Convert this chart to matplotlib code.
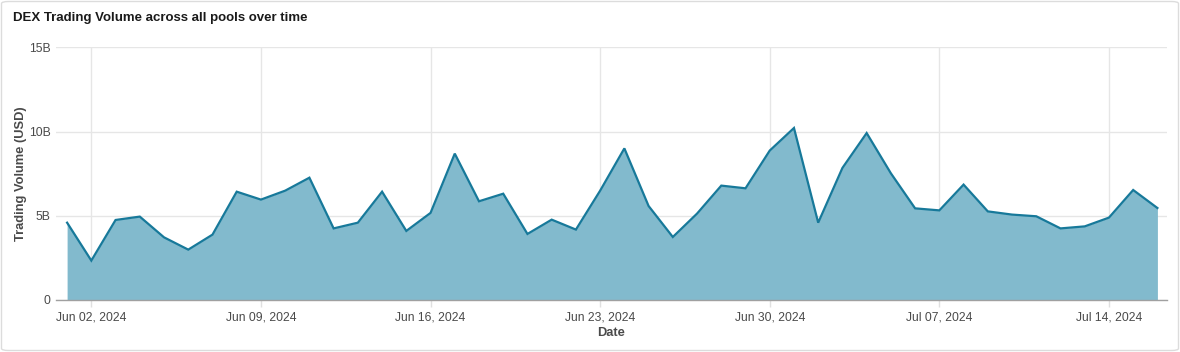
import matplotlib
matplotlib.use("Agg")
import matplotlib.pyplot as plt
import matplotlib.dates as mdates
from matplotlib.patches import FancyBboxPatch
import numpy as np
import pandas as pd

plt.rcParams['font.family'] = ['Liberation Sans', 'DejaVu Sans']

start_date = "2024-06-01"
end_date = "2024-07-16"
volume_b = [4.59, 2.34, 4.75, 4.95, 3.72, 2.99, 3.88, 6.43, 5.96, 6.49,
            7.26, 4.25, 4.59, 6.43, 4.10, 5.17, 8.69, 5.86, 6.31, 3.92,
            4.77, 4.18, 6.49, 9.00, 5.58, 3.74, 5.13, 6.79, 6.63, 8.87,
            10.21, 4.59, 7.84, 9.91, 7.52, 5.44, 5.32, 6.85, 5.26, 5.07,
            4.97, 4.25, 4.37, 4.89, 6.53, 5.46]
tick_dates = ["2024-06-02", "2024-06-09", "2024-06-16", "2024-06-23",
              "2024-06-30", "2024-07-07", "2024-07-14"]
y_ticks = [0, 5e9, 10e9, 15e9]
y_tick_labels = ["0", "5B", "10B", "15B"]

dates = pd.date_range(start_date, end_date, freq="D")
values = np.array(volume_b) * 1e9

W, H = 1180, 352
fig = plt.figure(figsize=(W / 100, H / 100), dpi=100)

# rounded card border
card = FancyBboxPatch((1.5 / W, 1.5 / H), (W - 3) / W, (H - 3) / H,
                      boxstyle="round,pad=0,rounding_size=0.006",
                      transform=fig.transFigure, facecolor="white",
                      edgecolor="#dcdcdc", linewidth=1.0, zorder=-10)
fig.patches.append(card)

ax_l, ax_r, ax_t, ax_b = 56, 1167, 47.3, 300
ax = fig.add_axes([ax_l / W, (H - ax_b) / H, (ax_r - ax_l) / W, (ax_b - ax_t) / H])
ax.set_facecolor("none")

fill_color = "#82bacd"
line_color = "#17799a"
ax.fill_between(dates, values, 0, color=fill_color, linewidth=0, zorder=2)
ax.plot(dates, values, color=line_color, linewidth=1.6, zorder=3,
        solid_joinstyle="miter")

ax.set_ylim(0, 15e9)
ax.set_xlim(dates[0] - pd.Timedelta(hours=11), dates[-1] + pd.Timedelta(hours=9.5))

ax.set_yticks(y_ticks)
ax.set_yticklabels(y_tick_labels)
xt = pd.to_datetime(tick_dates)
ax.set_xticks(xt)
ax.set_xticklabels([d.strftime("%b %d, %Y") for d in xt])

ax.grid(True, color="#e6e6e6", linewidth=1.0, zorder=1)
ax.set_axisbelow(True)
for s in ["top", "right", "left"]:
    ax.spines[s].set_visible(False)
ax.spines["bottom"].set_color("#a0a0a0")
ax.spines["bottom"].set_linewidth(1.0)
ax.spines["bottom"].set_zorder(4)

ax.tick_params(axis="y", length=0, pad=4, labelsize=8.7, labelcolor="#4a4a4a")
ax.tick_params(axis="x", length=5, width=1, color="#e0e0e0", pad=3,
               labelsize=8.7, labelcolor="#4a4a4a")

ax.set_xlabel("Date", fontsize=9.3, fontweight="bold", color="#4a4a4a", labelpad=3)
ax.set_ylabel("Trading Volume (USD)", fontsize=9.3, fontweight="bold",
              color="#4a4a4a", labelpad=1.5)

fig.text(13 / W, 1 - 17.5 / H, "DEX Trading Volume across all pools over time",
         fontsize=9.5, fontweight="bold", color="#1a1a1a", va="center", ha="left")

fig.savefig("out.png", dpi=100)
